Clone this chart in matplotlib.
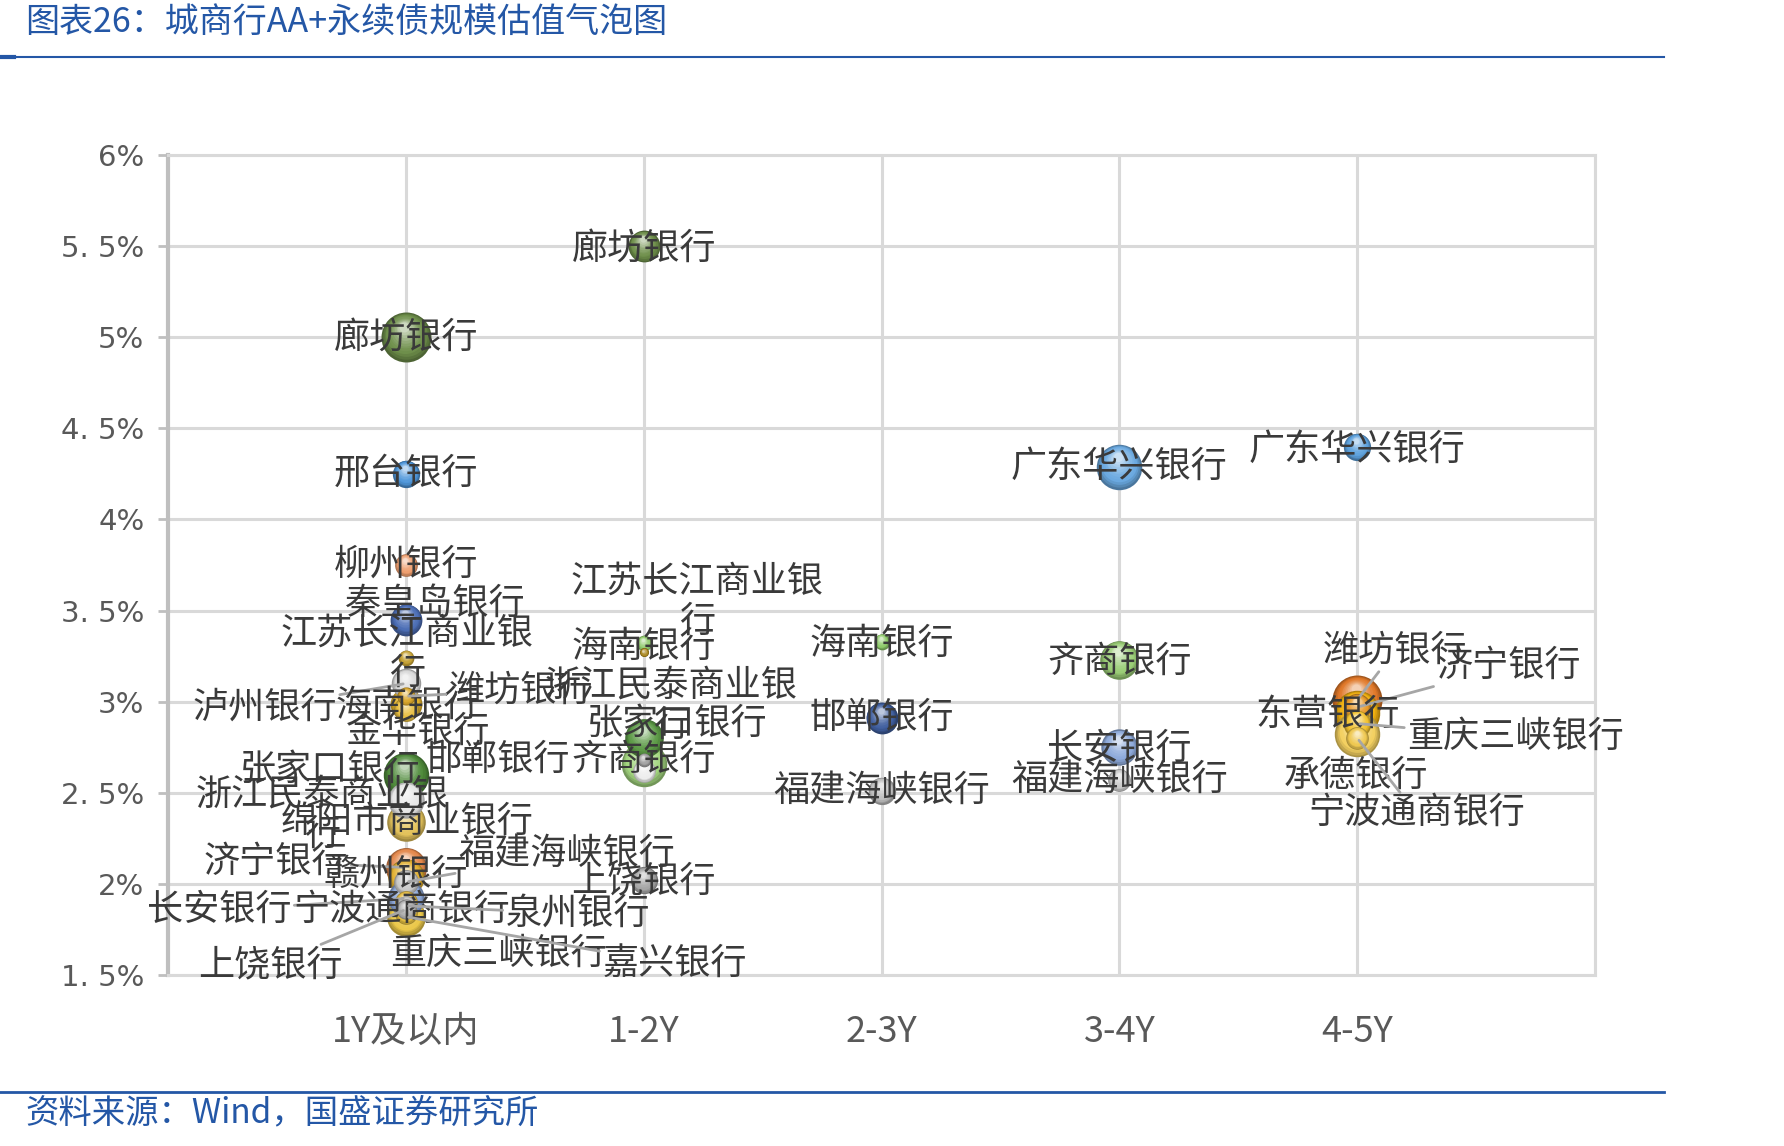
import numpy as np
import matplotlib
matplotlib.use('Agg')
import matplotlib.pyplot as plt
import matplotlib.colors as mcolors
from matplotlib import transforms
from matplotlib.lines import Line2D

plt.rcParams['font.family'] = ['Noto Sans CJK SC', 'DejaVu Sans']

terms = ['1Y及以内', '1-2Y', '2-3Y', '3-4Y', '4-5Y']

# 1Y及以内
banks_1y = ['廊坊银行', '邢台银行', '柳州银行', '秦皇岛银行', '江苏长江商业银行', '泸州银行',
            '海南银行', '潍坊银行', '金华银行', '张家口银行', '浙江民泰商业银行', '绵阳市商业银行',
            '济宁银行', '赣州银行', '福建海峡银行', '长安银行', '宁波通商银行', '泉州银行',
            '上饶银行', '重庆三峡银行', '嘉兴银行']
yld_1y = [5.00, 4.25, 3.75, 3.45, 3.24, 3.10, 2.99, 3.03, 2.96, 2.60, 2.46, 2.34,
          2.09, 2.04, 2.01, 1.92, 1.90, 1.88, 1.86, 1.84, 1.82]
size_1y = [121, 36, 25, 49, 12, 42, 49, 16, 30, 100, 64, 72,
           81, 64, 30, 64, 25, 20, 20, 25, 72]

# 1-2Y
banks_2y = ['廊坊银行', '江苏长江商业银行', '海南银行', '浙江民泰商业银行', '张家口银行',
            '邯郸银行', '齐商银行', '上饶银行']
yld_2y = [5.50, 3.27, 3.32, 2.62, 2.80, 2.68, 2.66, 2.02]
size_2y = [49, 4, 12, 25, 72, 9, 100, 36]

# 2-3Y
banks_3y = ['海南银行', '邯郸银行', '福建海峡银行']
yld_3y = [3.33, 2.91, 2.51]
size_3y = [12, 49, 36]

# 3-4Y
banks_4y = ['广东华兴银行', '齐商银行', '长安银行', '福建海峡银行']
yld_4y = [4.29, 3.23, 2.75, 2.57]
size_4y = [100, 72, 64, 25]

# 4-5Y
banks_5y = ['广东华兴银行', '潍坊银行', '济宁银行', '东营银行', '重庆三峡银行', '承德银行', '宁波通商银行']
yld_5y = [4.40, 3.01, 2.97, 2.94, 2.88, 2.82, 2.80]
size_5y = [36, 121, 36, 100, 36, 100, 25]

# ---- styling: colours and label offsets (px of a 1568-wide view, dx right / dy down) ----
colors = [
    ['#6E8F4A', '#4E96DA', '#EE9E6E', '#4B6DB5', '#C4A032', '#DADADA', '#E3B22A', '#D9A62A',
     '#E8BE40', '#4E8A3A', '#E6E6E6', '#E3C25A', '#E4884C', '#E2B030', '#C8C8C8', '#8EA9DA',
     '#E8C048', '#C0C0C0', '#B0B0B0', '#E5BE40', '#EBC84A'],
    ['#6E8F4A', '#A8861E', '#8FCB6A', '#EDEDED', '#5C9A46', '#9E9E9E', '#A3D67F', '#A6A6A6'],
    ['#8FCB6A', '#3F5E9E', '#BDBDBD'],
    ['#6AA9E0', '#9ACD76', '#8EAADB', '#C8C8C8'],
    ['#5BA0DC', '#E07828', '#E89A2A', '#F0B010', '#F2C230', '#F3D060', '#EFC850'],
]
offsets = [
    [(0, 0), (0, 0), (0, 0), (25, -14), (1, -4), (-124, 21), (2, 2), (101, -5), (11, 20),
     (-67, -4), (-74, 13), (1, 0), (-114, -5), (-9, -2), (141, -25), (-164, 10), (-4, 7),
     (151, 7), (-119, 49), (81, 36), (236, 42)],
    [(0, 2), (47, -45), (0, 3), (24, -57), (29, -12), (-128, 0), (0, -3), (0, 1)],
    [(0, 2), (0, 0), (0, 0)],
    [(0, 0), (0, 2), (0, 1), (0, 0)],
    [(0, 3), (33, -43), (133, -36), (-26, 2), (139, 12), (-1, 36), (52, 66)],
]
leaders = [
    {'泸州银行', '潍坊银行', '济宁银行', '福建海峡银行', '长安银行', '泉州银行', '上饶银行', '嘉兴银行'},
    set(), set(), set(),
    {'潍坊银行', '济宁银行', '重庆三峡银行', '宁波通商银行'},
]

banks = [banks_1y, banks_2y, banks_3y, banks_4y, banks_5y]
ylds = [yld_1y, yld_2y, yld_3y, yld_4y, yld_5y]
sizes = [size_1y, size_2y, size_3y, size_4y, size_5y]

PX2PT = 1784 / 1568 * 0.72
SIZE_K = 10.7

fig = plt.figure(figsize=(17.84, 11.46), dpi=100)
ax = fig.add_axes([0.0942, 0.1492, 0.7999, 0.7155])


def ball(x, y, s, color, z):
    d = np.sqrt(s)
    base = np.array(mcolors.to_rgb(color))
    dark = base * 0.7
    light = base + (1 - base) * 0.65
    n = 12
    for k in range(n):
        f = k / (n - 1)
        if f < 0.25:
            c = dark + (base - dark) * (f / 0.25)
        else:
            c = base + (light - base) * ((f - 0.25) / 0.75) ** 1.5
        dd = d * (1 - 0.8 * f)
        dy = d / 2 * 0.42 * f
        tr = ax.transData + transforms.ScaledTranslation(-dy * 0.15 / 72, dy / 72, fig.dpi_scale_trans)
        ax.scatter([x], [y], s=dd ** 2, color=c, linewidths=0, transform=tr, zorder=z + k * 0.001)


items = []
for i in range(5):
    for j, name in enumerate(banks[i]):
        items.append((sizes[i][j], i, j))
items.sort(key=lambda t: -t[0])
for rank, (sz, i, j) in enumerate(items):
    ball(i + 1, ylds[i][j], sz * SIZE_K, colors[i][j], 3 + rank * 0.05)

for i in range(5):
    for j, name in enumerate(banks[i]):
        dx, dy = offsets[i][j]
        txt = name if len(name) <= 7 else name[:7] + '\n' + name[7:]
        ap = None
        if name in leaders[i]:
            ap = dict(arrowstyle='-', color='#A6A6A6', lw=2, shrinkA=0, shrinkB=2)
        ax.annotate(txt, xy=(i + 1, ylds[i][j]), xytext=(dx * PX2PT, -dy * PX2PT),
                    textcoords='offset points', ha='center', va='center',
                    fontsize=26, color='#3A3A3A', linespacing=1.15,
                    arrowprops=ap, zorder=10, annotation_clip=False)

ax.set_xlim(0, 6)
ax.set_ylim(1.5, 6)
ax.set_xticks(range(1, 6))
ax.set_xticklabels(terms, fontsize=26, color='#595959')
yt = np.arange(1.5, 6.01, 0.5)
ax.set_yticks(yt)
ax.set_yticklabels(['1. 5%', '2%', '2. 5%', '3%', '3. 5%', '4%', '4. 5%', '5%', '5. 5%', '6%'],
                   fontsize=21, color='#595959', family='DejaVu Sans')
ax.tick_params(axis='x', length=0, pad=28)
ax.tick_params(axis='y', length=7, width=2, color='#BFBFBF', pad=10)
ax.grid(True, color='#D9D9D9', lw=2.2)
ax.axvline(6, color='#D9D9D9', lw=2.2)
ax.set_axisbelow(True)
for sp in ['top', 'bottom', 'right']:
    ax.spines[sp].set_color('#D9D9D9')
    ax.spines[sp].set_linewidth(2.2)
ax.spines['left'].set_color('#BFBFBF')
ax.spines['left'].set_linewidth(3)

blue = '#2457A6'
fig.text(0.014, 0.980, '图表26：城商行AA+永续债规模估值气泡图', fontsize=24.5, color=blue,
         style='italic', va='center', ha='left')
fig.text(0.014, 0.029, '资料来源：Wind，国盛证券研究所', fontsize=24, color=blue,
         style='italic', va='center', ha='left')
fig.add_artist(Line2D([0, 0.933], [0.950, 0.950], transform=fig.transFigure, color=blue, lw=1.5))
fig.add_artist(Line2D([0, 0.008], [0.950, 0.950], transform=fig.transFigure, color=blue, lw=3))
fig.add_artist(Line2D([0, 0.933], [0.047, 0.047], transform=fig.transFigure, color=blue, lw=2))

fig.savefig('out.png', dpi=100)
